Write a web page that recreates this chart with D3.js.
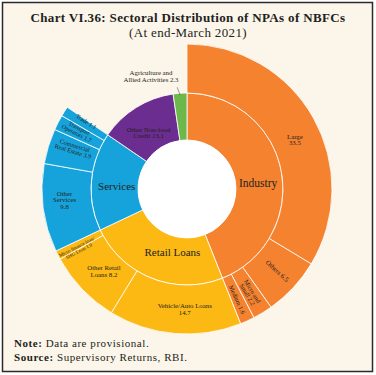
<!DOCTYPE html>
<html>
<head>
<meta charset="utf-8">
<script src="https://cdn.jsdelivr.net/npm/d3@7"></script>
<style>
  body { margin: 0; background: #fff; }
  text { font-family: "Liberation Serif", "DejaVu Serif", serif; fill: #231f20; }
</style>
</head>
<body>
<svg id="chart" width="376" height="375"></svg>
<script>

// inner ring: sectors
let sectors = ['Industry', 'Retail Loans', 'Services', 'Other Non-food Credit', 'Agriculture and Allied Activities'];
let sectorValues = [43.8, 23.9, 16.5, 13.1, 2.3];

// outer ring: sub-sectors (parent index into sectors)
let subSectors = ['Large', 'Others', 'Micro and Small', 'Medium',
    'Vehicle/Auto Loans', 'Other Retail Loans', 'Micro finance loan/SHG Loan',
    'Other Services', 'Commercial Real Estate', 'Transport Operators', 'Trade'];
let subValues = [33.5, 6.5, 2.2, 1.6, 14.7, 8.2, 1.0, 9.8, 3.9, 1.7, 1.1];
let subParent = [0, 0, 0, 0, 1, 1, 1, 2, 2, 2, 2];

let Colors = ['#f4822f', '#fdb913', '#16a3dc', '#6b2d90', '#6cb84b'];

let Ring = {
    cx: 187,
    cy: 189,
    r0: 49,
    r1: 96,
    r2: 145
};

// label layout for the outer ring: line breaks (value goes on last line), rotate flag, nudges
let subLabelStyle = [
    { lines: ['Large', ''], rotate: false, dx: 3, dy: 10 },
    { lines: ['Others'], rotate: true, dx: 2, dy: 0 },
    { lines: ['Micro and', 'Small'], rotate: true, dx: 0, dy: 1, size: 6.3 },
    { lines: ['Medium'], rotate: true, dx: 0, dy: 1, size: 6.3 },
    { lines: ['Vehicle/Auto Loans', ''], rotate: false, dx: 8, dy: 0 },
    { lines: ['Other Retail', 'Loans'], rotate: false, dx: 4, dy: -1 },
    { lines: ['Micro finance loan/', 'SHG Loan'], rotate: true, dx: -2, dy: 5, size: 5 },
    { lines: ['Other', 'Services', ''], rotate: false, dx: -3, dy: -5 },
    { lines: ['Commercial', 'Real Estate'], rotate: true, dx: 2, dy: -5, size: 6.3 },
    { lines: ['Transport', 'Operators'], rotate: true, dx: -2, dy: -3, size: 6 },
    { lines: ['Trade'], rotate: true, dx: 1, dy: -3, size: 6 }
];

let svg = d3.select('#chart');

// frame
svg.append('rect')
    .attr('x', 2.5).attr('y', 2.5)
    .attr('width', 370).attr('height', 369)
    .attr('fill', '#fcf5ea')
    .attr('stroke', '#2b2b2b')
    .attr('stroke-width', 1.5);

svg.append('text')
    .attr('x', 188).attr('y', 22)
    .attr('text-anchor', 'middle')
    .attr('font-size', 13)
    .attr('letter-spacing', 0.35)
    .attr('font-weight', 'bold')
    .text('Chart VI.36: Sectoral Distribution of NPAs of NBFCs');

svg.append('text')
    .attr('x', 188).attr('y', 37)
    .attr('text-anchor', 'middle')
    .attr('font-size', 13)
    .attr('letter-spacing', 0.35)
    .text('(At end-March 2021)');

let g = svg.append('g')
    .attr('transform', `translate(${Ring.cx},${Ring.cy})`);

let pie = d3.pie().sort(null).value(d => d.value);
let fmt = d3.format('.1f');

// inner ring
let innerData = pie(sectors.map((s, i) => ({ name: s, value: sectorValues[i], idx: i })));
let innerArc = d3.arc().innerRadius(Ring.r0).outerRadius(Ring.r1);

g.selectAll('path.inner')
    .data(innerData)
    .join('path')
    .attr('class', 'inner')
    .attr('d', innerArc)
    .attr('fill', d => Colors[d.data.idx])
    .attr('stroke', '#fff')
    .attr('stroke-width', 0.8);

// outer ring: sub-sectors, then sectors without breakdown as hidden spacers
let outerItems = subSectors.map((s, i) => ({ name: s, value: subValues[i], parent: subParent[i], idx: i }));
sectors.forEach((s, i) => {
    if (!subParent.includes(i)) outerItems.push({ name: s, value: sectorValues[i], parent: i, idx: -1 });
});
let outerData = pie(outerItems);
let outerArc = d3.arc().innerRadius(Ring.r1).outerRadius(Ring.r2);

g.selectAll('path.outer')
    .data(outerData.filter(d => d.data.idx >= 0))
    .join('path')
    .attr('class', 'outer')
    .attr('d', outerArc)
    .attr('fill', d => Colors[d.data.parent])
    .attr('stroke', '#fff')
    .attr('stroke-width', 0.8);

// white hole
g.append('circle').attr('r', Ring.r0).attr('fill', '#fff');

function multiLine(x, y, rot, lines, size) {
    let lh = size * 0.95;
    let t = g.append('text')
        .attr('transform', `translate(${x},${y}) rotate(${rot})`)
        .attr('text-anchor', 'middle')
        .attr('font-size', size);
    lines.forEach((l, k) => {
        t.append('tspan')
            .attr('x', 0)
            .attr('y', (k - (lines.length - 1) / 2) * lh + size * 0.35)
            .text(l);
    });
}

// outer labels
let midR = (Ring.r1 + Ring.r2) / 2;
outerData.filter(d => d.data.idx >= 0).forEach(d => {
    let st = subLabelStyle[d.data.idx];
    let a = (d.startAngle + d.endAngle) / 2;
    let deg = a * 180 / Math.PI;
    let x = Math.sin(a) * midR + st.dx;
    let y = -Math.cos(a) * midR + st.dy;
    let rot = st.rotate ? (deg < 180 ? deg - 90 : deg - 270) : 0;
    let lines = st.lines.slice();
    let last = lines.length - 1;
    lines[last] = (lines[last] ? lines[last] + ' ' : '') + fmt(d.data.value);
    multiLine(x, y, rot, lines, st.size || 6.8);
});

// inner labels
let innerLabelPos = [
    { dx: 0, dy: 8, lines: ['Industry'], size: 11.5 },
    { dx: 12, dy: -4, lines: ['Retail Loans'], size: 11 },
    { dx: 2, dy: 3, lines: ['Services'], size: 11 },
    { dx: 0, dy: 5, lines: ['Other Non-food', 'Credit'], size: 6.8 }
];
let innerMid = (Ring.r0 + Ring.r1) / 2;
innerData.slice(0, 4).forEach((d, i) => {
    let st = innerLabelPos[i];
    let a = (d.startAngle + d.endAngle) / 2;
    let x = Math.sin(a) * innerMid + st.dx;
    let y = -Math.cos(a) * innerMid + st.dy;
    let lines = st.lines.slice();
    if (lines.length > 1) lines[lines.length - 1] += ' ' + fmt(d.data.value);
    multiLine(x, y, 0, lines, st.size);
});

// agriculture: label outside with leader
let agri = innerData[4];
let agA = (agri.startAngle + agri.endAngle) / 2;
let agTip = [Math.sin(agA) * (Ring.r1 - 2), -Math.cos(agA) * (Ring.r1 - 2)];
g.append('line')
    .attr('x1', agTip[0] - 3).attr('y1', agTip[1] - 8)
    .attr('x2', agTip[0]).attr('y2', agTip[1])
    .attr('stroke', '#555')
    .attr('stroke-width', 0.6);
let agT = g.append('text')
    .attr('text-anchor', 'middle')
    .attr('font-size', 6.8);
agT.append('tspan').attr('x', -36).attr('y', -114).text('Agriculture and');
agT.append('tspan').attr('x', -36).attr('y', -107.5).text('Allied Activities ' + fmt(agri.data.value));

// notes
let note = svg.append('text').attr('x', 14).attr('y', 347)
    .attr('font-size', 11).attr('letter-spacing', 0.55);
note.append('tspan').attr('font-weight', 'bold').text('Note:');
note.append('tspan').text(' Data are provisional.');
let src = svg.append('text').attr('x', 14).attr('y', 361)
    .attr('font-size', 11).attr('letter-spacing', 0.55);
src.append('tspan').attr('font-weight', 'bold').text('Source:');
src.append('tspan').text(' Supervisory Returns, RBI.');

</script>
</body>
</html>
